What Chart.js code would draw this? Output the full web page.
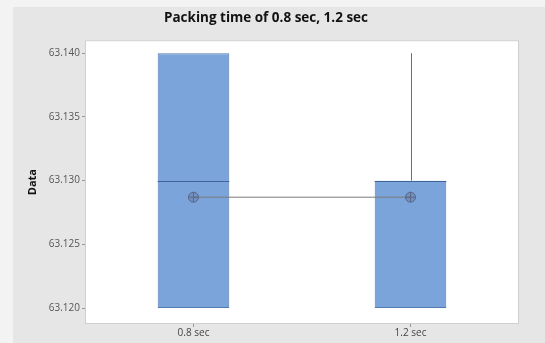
<!DOCTYPE html>
<html>
<head>
<meta charset="utf-8">
<script src="https://cdn.jsdelivr.net/npm/chart.js@4"></script>
<style>
  html, body { margin: 0; padding: 0; background: #f2f2f2; }
  #wrap { width: 545px; height: 343px; }
</style>
</head>
<body>
<div id="wrap"><canvas id="c" width="545" height="343"></canvas></div>
<script>
// Box plot summary per packing time
const categories = ['0.8 sec', '1.2 sec'];
const q1 = [63.120, 63.120];
const q3 = [63.140, 63.130];
const medians = [63.130, 63.130];
const whiskerLow = [63.120, 63.120];
const whiskerHigh = [63.140, 63.140];
const means = [63.1287, 63.1287];
const yTicks = [63.120, 63.125, 63.130, 63.135, 63.140];

// Panel background, white plot area and its frame
const panelPlugin = {
  id: 'panel',
  beforeDraw(chart) {
    const { ctx, chartArea: a, width, height } = chart;
    ctx.save();
    ctx.fillStyle = '#f3f3f3';
    ctx.fillRect(0, 0, width, height);
    ctx.fillStyle = '#e6e6e6';
    ctx.fillRect(13, 7, width - 13, height - 7);
    ctx.fillStyle = '#ffffff';
    ctx.fillRect(a.left, a.top, a.right - a.left, a.bottom - a.top);
    ctx.strokeStyle = '#cfcfcf';
    ctx.lineWidth = 1;
    ctx.strokeRect(a.left + 0.5, a.top + 0.5, a.right - a.left - 1, a.bottom - a.top - 1);
    ctx.restore();
  }
};

// Whiskers (box edge to extreme) and median lines over the boxes
const boxLinesPlugin = {
  id: 'boxLines',
  beforeDatasetsDraw(chart) {
    const y = chart.scales.y;
    const meta = chart.getDatasetMeta(0);
    const ctx = chart.ctx;
    ctx.save();
    ctx.strokeStyle = '#6f6f6f';
    ctx.lineWidth = 1;
    meta.data.forEach((bar, i) => {
      const x = Math.round(bar.x) + 0.5;
      const segs = [[q3[i], whiskerHigh[i]], [whiskerLow[i], q1[i]]];
      segs.forEach(([a, b]) => {
        if (b - a <= 0) return;
        ctx.beginPath();
        ctx.moveTo(x, y.getPixelForValue(a));
        ctx.lineTo(x, y.getPixelForValue(b));
        ctx.stroke();
      });
    });
    ctx.restore();
  },
  afterDatasetDraw(chart, args) {
    if (args.index !== 0) return;
    const y = chart.scales.y;
    const ctx = chart.ctx;
    ctx.save();
    ctx.strokeStyle = '#40649a';
    ctx.lineWidth = 1;
    args.meta.data.forEach((bar, i) => {
      const py = Math.round(y.getPixelForValue(medians[i])) + 0.5;
      ctx.beginPath();
      ctx.moveTo(bar.x - bar.width / 2, py);
      ctx.lineTo(bar.x + bar.width / 2, py);
      ctx.stroke();
    });
    ctx.restore();
  }
};

const tickFont = { family: 'Open Sans', size: 10 };

new Chart(document.getElementById('c'), {
  data: {
    labels: categories,
    datasets: [
      {
        type: 'bar',
        data: categories.map((c, i) => [q1[i], q3[i]]),
        backgroundColor: '#7ba4da',
        borderColor: '#5279b0',
        borderWidth: 1,
        borderSkipped: false,
        barPercentage: 0.33,
        categoryPercentage: 1,
        order: 3
      },
      {
        type: 'line',
        data: means,
        borderColor: '#7a7a7a',
        borderWidth: 1,
        pointStyle: 'circle',
        pointRadius: 5,
        pointBackgroundColor: 'rgba(95,110,145,0.35)',
        pointBorderColor: '#5a6788',
        pointBorderWidth: 1,
        order: 2
      },
      {
        type: 'line',
        data: means,
        showLine: false,
        pointStyle: 'cross',
        pointRadius: 5,
        pointBorderColor: '#5a6788',
        pointBorderWidth: 1,
        order: 1
      }
    ]
  },
  options: {
    responsive: false,
    animation: false,
    layout: { padding: { left: 13, right: 26, top: 0, bottom: 0 } },
    plugins: {
      legend: { display: false },
      tooltip: { enabled: false },
      title: {
        display: true,
        text: 'Packing time of 0.8 sec, 1.2 sec',
        color: '#111111',
        font: { family: 'Open Sans', size: 13.5, weight: 'bold' },
        padding: { top: 10, bottom: 14 }
      }
    },
    scales: {
      x: {
        type: 'category',
        offset: true,
        grid: { display: true, offset: false, drawOnChartArea: false, drawTicks: true, tickLength: 3, color: '#999999' },
        border: { display: false },
        ticks: { color: '#444444', font: tickFont, padding: 0, maxRotation: 0 },
        afterFit(s) { s.height = 19; }
      },
      y: {
        type: 'linear',
        min: 63.11875,
        max: 63.14102,
        afterBuildTicks(s) { s.ticks = yTicks.map(v => ({ value: v })); },
        grid: { display: true, drawOnChartArea: false, drawTicks: true, tickLength: 3, color: '#999999' },
        border: { display: false },
        ticks: {
          color: '#555555',
          font: tickFont,
          padding: 2,
          callback: v => Number(v).toFixed(3)
        },
        title: {
          display: true,
          text: 'Data',
          color: '#111111',
          font: { family: 'Open Sans', size: 11, weight: 'bold' },
          padding: { top: 13, bottom: 0 }
        },
        afterFit(s) { s.width = 72; }
      }
    }
  },
  plugins: [panelPlugin, boxLinesPlugin]
});
</script>
</body>
</html>
